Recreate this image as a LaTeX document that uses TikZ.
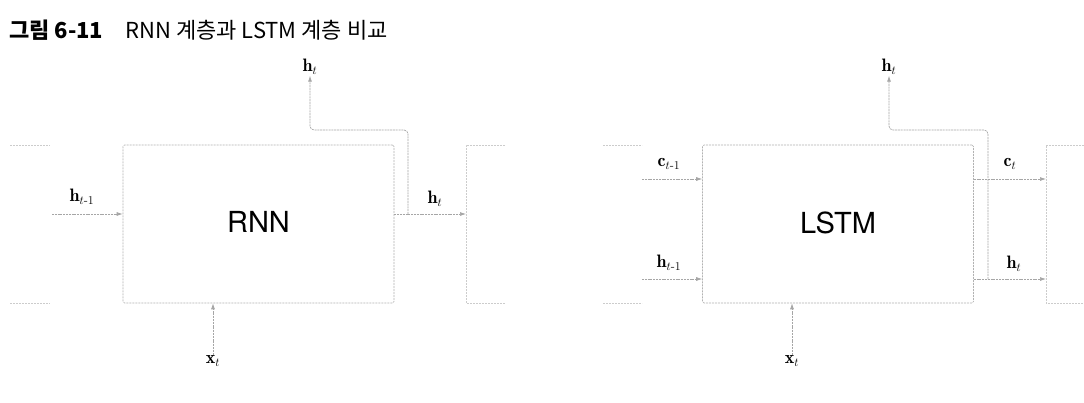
\documentclass[tikz,border=0pt]{standalone}
\usepackage{amsmath}
\usepackage{fontspec}
\setsansfont{TeX Gyre Heros}
\newfontfamily\krfont{Noto Sans CJK KR}
\usetikzlibrary{arrows.meta}

\tikzset{
  layerbox/.style={draw=gray!60, dash pattern=on 2pt off 1pt, line width=0.6pt,
    rounded corners=1.5pt, minimum width=271pt, minimum height=158pt,
    font=\sffamily\fontsize{29}{29}\selectfont},
  ghost/.style={draw=gray!40, dash pattern=on 2pt off 1pt, line width=0.6pt},
  flow/.style={draw=gray!70, dash pattern=on 2pt off 0.8pt, line width=0.7pt,
    -{Latex[length=6pt,width=4pt]}},
  lbl/.style={font=\fontsize{18}{18}\selectfont, inner sep=1pt}
}

\begin{document}
\begin{tikzpicture}[x=1pt,y=-1pt]
  \useasboundingbox[fill=white] (0,0) rectangle (1084,402);
  % title
  \node[anchor=west, inner sep=0pt, font=\krfont\fontsize{22}{22}\selectfont] (title) at (9,30)
    {\textbf{그림 6-11}\hspace{22pt}RNN 계층과 LSTM 계층 비교};

  % ---- RNN ----
  \draw[ghost] (10,145) -- (50,145) (10,303) -- (50,303);
  \draw[ghost] (505,145) -- (466,145) -- (466,303) -- (505,303);
  \node[layerbox] (rnn) at (258.5,224) {\raisebox{4pt}{RNN}};
  \coordinate (rin) at (52,214);
  \coordinate (rnext) at (466,214);
  \coordinate (rsplit) at (408,214);
  \node[lbl] (rhprev) at (82,197) {$\mathbf{h}_{t\text{-}1}$};
  \node[lbl] (rhout) at (435,199) {$\mathbf{h}_t$};
  \node[lbl] (rhup) at (310,67) {$\mathbf{h}_t$};
  \node[lbl] (rx) at (213,361) {$\mathbf{x}_t$};
  \draw[flow] (rin) -- (rin -| rnn.west);
  \draw[flow] (rin -| rnn.east) -- (rnext);
  \draw[flow, rounded corners=4pt] (rsplit) -- (408,130) -- (310,130) -- (rhup.south);
  \draw[flow] (rx.north) -- (rx.north |- rnn.south);

  % ---- LSTM ----
  \draw[ghost] (603,145) -- (642,145) (603,303) -- (642,303);
  \draw[ghost] (1084,145) -- (1046,145) -- (1046,303) -- (1084,303);
  \node[layerbox] (lstm) at (838,224) {\raisebox{2pt}{LSTM}};
  \coordinate (cin) at (642,179);
  \coordinate (hin) at (642,279);
  \coordinate (cnext) at (1046,179);
  \coordinate (hnext) at (1046,279);
  \coordinate (lsplit) at (988,279);
  \node[lbl] (lcprev) at (669,164) {$\mathbf{c}_{t\text{-}1}$};
  \node[lbl] (lhprev) at (669,263) {$\mathbf{h}_{t\text{-}1}$};
  \node[lbl] (lcout) at (1010,164) {$\mathbf{c}_t$};
  \node[lbl] (lhout) at (1014,264) {$\mathbf{h}_t$};
  \node[lbl] (lhup) at (889,67) {$\mathbf{h}_t$};
  \node[lbl] (lx) at (792,361) {$\mathbf{x}_t$};
  \draw[flow] (cin) -- (cin -| lstm.west);
  \draw[flow] (hin) -- (hin -| lstm.west);
  \draw[flow] (cin -| lstm.east) -- (cnext);
  \draw[flow] (hin -| lstm.east) -- (hnext);
  \draw[flow, rounded corners=4pt] (lsplit) -- (988,130) -- (889,130) -- (lhup.south);
  \draw[flow] (lx.north) -- (lx.north |- lstm.south);
\end{tikzpicture}
\end{document}
